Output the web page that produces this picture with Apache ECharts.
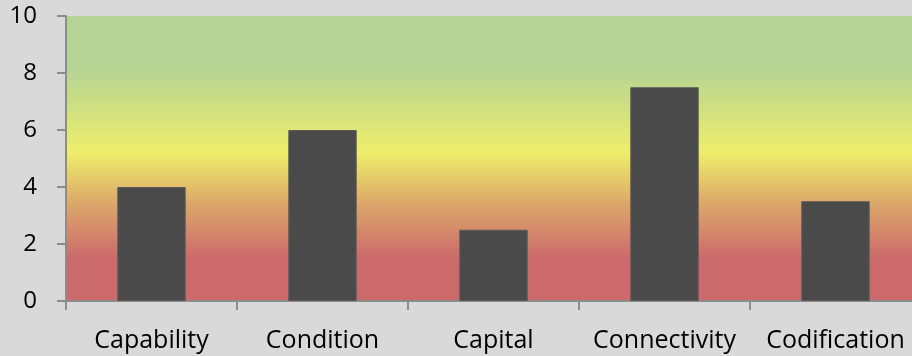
<!DOCTYPE html>
<html>
<head>
<meta charset="utf-8">
<script src="https://cdn.jsdelivr.net/npm/echarts@6/dist/echarts.min.js"></script>
<style>
  html, body { margin: 0; padding: 0; background: #d9d9d9; }
  #chart { width: 912px; height: 356px; }
</style>
</head>
<body>
<div id="chart"></div>
<script>
var categories = ['Capability', 'Condition', 'Capital', 'Connectivity', 'Codification'];
var scores = [4, 6, 2.5, 7.5, 3.5];

var chart = echarts.init(document.getElementById('chart'));

// gradient behind the bars: green at top, yellow mid, red bottom
var bands = new echarts.graphic.LinearGradient(0, 0, 0, 1, [
    { offset: 0, color: '#b5d396' },
    { offset: 0.19, color: '#b6d494' },
    { offset: 0.48, color: '#eeee6a' },
    { offset: 0.66, color: '#dca66a' },
    { offset: 0.85, color: '#cc6a6b' },
    { offset: 1, color: '#cc696a' }
]);

chart.setOption({
    backgroundColor: '#d9d9d9',
    animation: false,
    grid: {
        left: 66, top: 16, width: 855, height: 285,
        outerBoundsMode: 'none',   // plot runs off the right edge in the original
        containLabel: false,
        show: true,
        backgroundColor: bands,
        borderWidth: 0
    },
    xAxis: {
        type: 'category',
        data: categories,
        axisLine: { lineStyle: { color: '#8c8c8c', width: 2 } },
        axisTick: { show: true, length: 9, lineStyle: { color: '#8c8c8c', width: 2 } },
        axisLabel: { interval: 0, margin: 27, fontFamily: 'Open Sans', fontSize: 25, color: '#000' }
    },
    yAxis: {
        type: 'value',
        min: 0, max: 10, interval: 2,
        splitLine: { show: false },
        axisLine: { show: true, lineStyle: { color: '#8c8c8c', width: 2 } },
        axisTick: { show: true, length: 9, lineStyle: { color: '#8c8c8c', width: 2 } },
        axisLabel: { margin: 29, fontFamily: 'Open Sans', fontSize: 24, color: '#000' }
    },
    series: [{
        type: 'bar',
        data: scores,
        barWidth: '40%',
        itemStyle: { color: '#4a4a4a', borderColor: '#5a5a5a', borderWidth: 1 }
    }]
});
</script>
</body>
</html>
